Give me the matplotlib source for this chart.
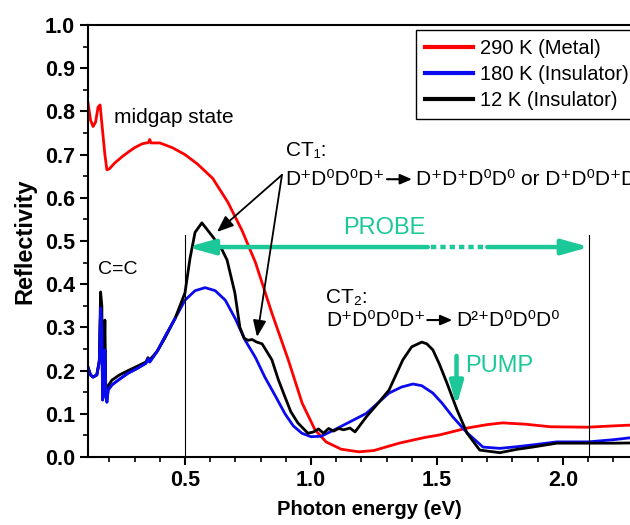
import matplotlib
matplotlib.use("Agg")
import matplotlib.pyplot as plt
import numpy as np

plt.rcParams['font.family'] = ['Liberation Sans', 'DejaVu Sans']

# 290 K (metal)
x_290 = [0.115, 0.125, 0.135, 0.145, 0.155, 0.163, 0.172, 0.182, 0.19, 0.2, 0.22, 0.25, 0.28, 0.30,
         0.33, 0.355, 0.36, 0.365, 0.40, 0.45, 0.50, 0.55, 0.61, 0.67, 0.726, 0.78, 0.845,
         0.91, 0.965, 1.016, 1.06, 1.12, 1.19, 1.25, 1.35, 1.45, 1.51, 1.62, 1.70, 1.76, 1.85,
         1.95, 2.1, 2.2, 2.35]
r_290 = [0.82, 0.78, 0.765, 0.775, 0.81, 0.815, 0.76, 0.70, 0.665, 0.667, 0.68, 0.695, 0.708, 0.716,
         0.725, 0.728, 0.735, 0.727, 0.727, 0.716, 0.70, 0.678, 0.645, 0.59, 0.525, 0.45, 0.333,
         0.225, 0.125, 0.063, 0.035, 0.018, 0.012, 0.015, 0.032, 0.045, 0.051, 0.067, 0.075, 0.079, 0.076,
         0.07, 0.069, 0.072, 0.076]

# 180 K (insulator)
x_180 = [0.115, 0.125, 0.135, 0.15, 0.16, 0.165, 0.17, 0.173, 0.177, 0.182, 0.186, 0.19, 0.195, 0.21,
         0.24, 0.274, 0.31, 0.345, 0.353, 0.36, 0.39, 0.42, 0.46, 0.5, 0.54, 0.58, 0.62, 0.66, 0.70,
         0.738, 0.78, 0.817, 0.86, 0.897, 0.93, 0.964, 1.0, 1.04, 1.09, 1.15, 1.22, 1.31, 1.36, 1.405,
         1.44, 1.484, 1.52, 1.563, 1.62, 1.683, 1.75, 1.82, 1.88, 1.976, 2.1, 2.2, 2.35]
r_180 = [0.208, 0.19, 0.185, 0.19, 0.22, 0.345, 0.30, 0.132, 0.16, 0.248, 0.14, 0.127, 0.155, 0.167,
         0.18, 0.194, 0.205, 0.217, 0.228, 0.22, 0.245, 0.278, 0.32, 0.363, 0.385, 0.392, 0.385, 0.363,
         0.32, 0.271, 0.23, 0.185, 0.14, 0.10, 0.072, 0.055, 0.047, 0.048, 0.062, 0.08, 0.101, 0.148,
         0.162, 0.169, 0.165, 0.148, 0.125, 0.093, 0.056, 0.023, 0.02, 0.024, 0.028, 0.035, 0.035, 0.04,
         0.05]

# 12 K (insulator)
x_12 = [0.115, 0.125, 0.135, 0.15, 0.16, 0.165, 0.17, 0.173, 0.177, 0.182, 0.186, 0.19, 0.195, 0.21,
        0.24, 0.274, 0.31, 0.345, 0.353, 0.36, 0.39, 0.42, 0.46, 0.5, 0.52, 0.54, 0.567, 0.59, 0.61,
        0.647, 0.667, 0.698, 0.718, 0.735, 0.75, 0.766, 0.785, 0.806, 0.845, 0.87, 0.897, 0.92, 0.948,
        0.988, 1.01, 1.03, 1.05, 1.07, 1.09, 1.11, 1.13, 1.155, 1.175, 1.22, 1.26, 1.31, 1.365, 1.40,
        1.44, 1.46, 1.484, 1.51, 1.54, 1.58, 1.62, 1.67, 1.75, 1.82, 1.88, 1.976, 2.1, 2.2, 2.35]
r_12 = [0.205, 0.19, 0.185, 0.19, 0.225, 0.382, 0.35, 0.14, 0.17, 0.317, 0.14, 0.14, 0.165, 0.178,
        0.19, 0.2, 0.21, 0.22, 0.23, 0.225, 0.245, 0.275, 0.32, 0.38, 0.46, 0.52, 0.542, 0.525, 0.51,
        0.48, 0.456, 0.38, 0.30, 0.275, 0.27, 0.272, 0.266, 0.262, 0.225, 0.18, 0.139, 0.105, 0.079,
        0.055, 0.058, 0.065, 0.055, 0.066, 0.06, 0.066, 0.063, 0.067, 0.058, 0.093, 0.12, 0.155, 0.225,
        0.255, 0.266, 0.262, 0.248, 0.215, 0.171, 0.109, 0.055, 0.016, 0.01, 0.018, 0.023, 0.032, 0.032,
        0.032, 0.033]

labels = ['290 K (Metal)', '180 K (Insulator)', '12 K (Insulator)']
colors = ['#ff0000', '#0a0aee', '#000000']
teal = '#1cc898'

fig = plt.figure(figsize=(6.3, 5.25), dpi=100)
ax = fig.add_axes([88 / 630, 68 / 525, 563 / 630, 432 / 525])

ax.plot(x_290, r_290, color=colors[0], lw=2.0, label=labels[0])
ax.plot(x_180, r_180, color=colors[1], lw=2.0, label=labels[1])
ax.plot(x_12, r_12, color=colors[2], lw=2.0, label=labels[2])
# blue sits on top of black below 0.5 eV, as in the original
ax.plot(x_180[:23], r_180[:23], color=colors[1], lw=2.0)

ax.set_xlim(0.115, 2.35)
ax.set_ylim(0, 1.0)
ax.set_xticks([0.5, 1.0, 1.5, 2.0])
ax.set_xticks(np.arange(0.2, 2.35, 0.1), minor=True)
ax.set_yticks(np.arange(0, 1.01, 0.1))
ax.set_yticks(np.arange(0, 1.0, 0.05), minor=True)
ax.set_yticklabels(['%.1f' % v for v in np.arange(0, 1.01, 0.1)])
ax.tick_params(which='major', direction='out', length=6, width=1.5, labelsize=15.5)
ax.tick_params(which='minor', direction='out', length=3.5, width=1.2)
for lab in ax.get_xticklabels() + ax.get_yticklabels():
    lab.set_fontweight('bold')
for s in ax.spines.values():
    s.set_linewidth(1.5)

ax.set_xlabel('Photon energy (eV)', fontsize=14.5, fontweight='bold', labelpad=6)
ax.set_ylabel('Reflectivity', fontsize=17, fontweight='bold', labelpad=6)

# probe window marks
ax.plot([0.5, 0.5], [0, 0.515], color='black', lw=0.8)
ax.plot([2.105, 2.105], [0, 0.515], color='black', lw=0.8)

# PROBE arrow
ax.annotate('', xy=(0.51, 0.486), xytext=(1.464, 0.486),
            arrowprops=dict(arrowstyle='-|>,head_length=1.6,head_width=0.45', color=teal, lw=3.2,
                            shrinkA=0, shrinkB=0))
ax.plot([1.475, 1.695], [0.486, 0.486], color=teal, lw=3.2, dashes=(1.2, 0.9))
ax.annotate('', xy=(2.105, 0.486), xytext=(1.70, 0.486),
            arrowprops=dict(arrowstyle='-|>,head_length=1.6,head_width=0.45', color=teal, lw=3.2,
                            shrinkA=0, shrinkB=0))
ax.text(1.29, 0.53, 'PROBE', color=teal, fontsize=17, ha='center', va='center')

# PUMP arrow
ax.annotate('', xy=(1.578, 0.118), xytext=(1.578, 0.234),
            arrowprops=dict(arrowstyle='-|>,head_length=1.4,head_width=0.4', color=teal, lw=3.2,
                            shrinkA=0, shrinkB=0))
ax.text(1.611, 0.21, 'PUMP', color=teal, fontsize=17, ha='left', va='center')

ax.text(0.218, 0.787, 'midgap state', fontsize=15, ha='left', va='center')
ax.text(0.153, 0.433, 'C=C', fontsize=14, ha='left', va='center')

small_arrow = dict(arrowstyle='-|>,head_length=0.7,head_width=0.3', color='black', lw=1.5,
                   shrinkA=0, shrinkB=0)


def reaction(x, y, left, right):
    # left text, short arrow, right text placed one after the other
    t1 = ax.text(x, y, left, fontsize=15, ha='left', va='center')
    fig.canvas.draw()
    bb = t1.get_window_extent()
    inv = ax.transData.inverted()
    xa = inv.transform((bb.x1 + 2, 0))[0]
    xb = inv.transform((bb.x1 + 27, 0))[0]
    xc = inv.transform((bb.x1 + 31, 0))[0]
    ax.annotate('', xy=(xb, y), xytext=(xa, y), arrowprops=small_arrow)
    ax.text(xc, y, right, fontsize=15, ha='left', va='center')


# CT1
ax.text(0.90, 0.71, 'CT\u2081:', fontsize=15, ha='left', va='center')
reaction(0.90, 0.643, 'D\u207aD\u2070D\u2070D\u207a', 'D\u207aD\u207aD\u2070D\u2070 or D\u207aD\u2070D\u207aD\u2070')
big_arrow = dict(arrowstyle='-|>,head_length=1.0,head_width=0.4', color='black', lw=1.3,
                 shrinkA=0, shrinkB=0)
ax.annotate('', xy=(0.627, 0.521), xytext=(0.885, 0.653), arrowprops=big_arrow)
ax.annotate('', xy=(0.786, 0.278), xytext=(0.885, 0.653), arrowprops=big_arrow)

# CT2
ax.text(1.06, 0.37, 'CT\u2082:', fontsize=15, ha='left', va='center')
reaction(1.06, 0.317, 'D\u207aD\u2070D\u2070D\u207a', 'D\u00b2\u207aD\u2070D\u2070D\u2070')

leg = ax.legend(loc='upper left', bbox_to_anchor=(416 / 630, 1 - 30 / 525),
                bbox_transform=fig.transFigure, fontsize=14.5, frameon=True, fancybox=False,
                framealpha=1, edgecolor='black', handlelength=2.4, handletextpad=0.35,
                labelspacing=0.35, borderaxespad=0, borderpad=0.45)
leg.get_frame().set_linewidth(1.0)
for line in leg.get_lines():
    line.set_linewidth(3)

fig.savefig('out.png', dpi=100)
